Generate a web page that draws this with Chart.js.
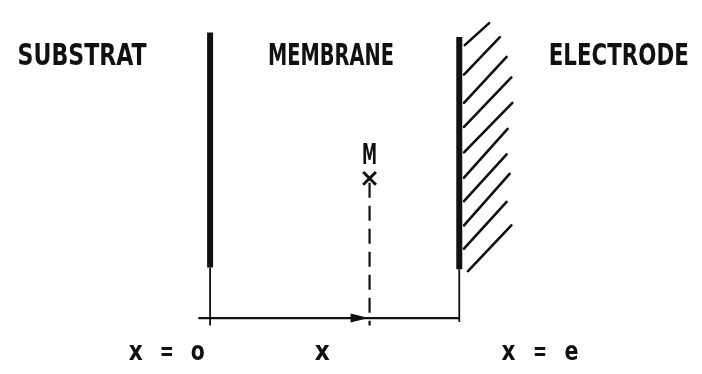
<!DOCTYPE html>
<html>
<head>
<meta charset="utf-8">
<script src="https://cdn.jsdelivr.net/npm/chart.js@4/dist/chart.umd.min.js"></script>
<style>
  html, body { margin: 0; padding: 0; background: #ffffff; }
  #wrap { width: 702px; height: 374px; }
</style>
</head>
<body>
<div id="wrap"><canvas id="c" width="702" height="374"></canvas></div>
<script>
// ---- Diagram data (units: membrane thickness e; x = 0 substrate, x = e = 1 electrode; y = height above the x axis) ----
const regionNames   = ["SUBSTRAT", "MEMBRANE", "ELECTRODE"];
const axisLabels    = ["x = o", "x", "x = e"];
const pointName     = "M";

const substrateX    = 0;          // x = o
const electrodeX    = 1;          // x = e
const wallTop       = [1.182, 1.163];   // substrate, electrode (top of thick wall)
const wallThickEnd  = [0.209, 0.202];   // where thick wall becomes thin
const wallBottom    = [-0.031, -0.016]; // bottom of thin continuation

const axisStartX    = -0.047;
const axisEndX      = 1.0;

const pointMX       = 0.640;      // abscissa x of M
const pointMY       = 0.578;
const dashTopY      = 0.560;
const dashBottomY   = -0.031;

// electrode hatching (start on wall, end up-right)
const hatchStartX = [1.022, 1.019, 1.019, 1.019, 1.019, 1.019, 1.019, 1.019, 1.019, 1.035];
const hatchStartY = [1.130, 1.008, 0.891, 0.791, 0.686, 0.581, 0.484, 0.384, 0.287, 0.194];
const hatchEndX   = [1.120, 1.163, 1.190, 1.209, 1.213, 1.194, 1.190, 1.202, 1.190, 1.209];
const hatchEndY   = [1.221, 1.163, 1.081, 0.996, 0.891, 0.783, 0.678, 0.597, 0.481, 0.384];

// label anchors (diagram units)
const regionLabelX  = [-0.514, 0.485, 1.640];
const regionLabelY  = 1.047;      // baseline
const axisLabelX    = [-0.174, 0.450, 1.324];
const axisLabelY    = -0.174;     // baseline
const pointLabelY   = 0.636;      // baseline

// ---- layout / style (not data) ----
const INK = "#111111";
const FONT = '"DejaVu Sans Condensed", "DejaVu Sans", sans-serif';
const regionStyle = { size: 30, widths: [129, 126, 140] };
const axisStyle   = { size: 27, widths: [76, 15, 77], glyph: 14 };
const pointStyleT = { size: 28, width: 15 };

function seg(x1, y1, x2, y2) { return [{x: x1, y: y1}, {x: x2, y: y2}]; }
function lineDs(data, width, extra) {
  return Object.assign({
    data: data, showLine: true, borderColor: INK, backgroundColor: INK,
    borderWidth: width, pointRadius: 0, borderCapStyle: 'butt', fill: false
  }, extra || {});
}

const datasets = [];
const wallX = [substrateX, electrodeX];
for (let i = 0; i < 2; i++) {
  datasets.push(lineDs(seg(wallX[i], wallTop[i], wallX[i], wallThickEnd[i]), 6));
  datasets.push(lineDs(seg(wallX[i], wallThickEnd[i], wallX[i], wallBottom[i]), 1.8));
}
for (let i = 0; i < hatchStartX.length; i++) {
  datasets.push(lineDs(seg(hatchStartX[i], hatchStartY[i], hatchEndX[i], hatchEndY[i]), 2.6, {borderCapStyle: 'round'}));
}
datasets.push(lineDs(seg(axisStartX, 0, axisEndX, 0), 2.2));
datasets.push(lineDs(seg(pointMX, dashTopY, pointMX, dashBottomY), 2.2, {borderDash: [15, 8]}));
datasets.push({
  data: [{x: pointMX, y: pointMY}], showLine: false, pointStyle: 'crossRot',
  pointRadius: 9, pointBorderWidth: 3, borderColor: INK, backgroundColor: INK
});

function fitText(ctx, text, cx, baseY, size, width) {
  ctx.save();
  ctx.font = 'bold ' + size + 'px ' + FONT;
  ctx.textBaseline = 'alphabetic';
  ctx.textAlign = 'left';
  const w = ctx.measureText(text).width;
  const sx = width / w;
  ctx.translate(cx - width / 2, baseY);
  ctx.scale(sx, 1);
  ctx.fillStyle = INK;
  ctx.fillText(text, 0, 0);
  ctx.restore();
}

// typewriter-like spaced label: tokens spread evenly over the total width
function spacedText(ctx, text, cx, baseY, size, width, glyph) {
  const tokens = text.split(' ');
  if (tokens.length === 1) { fitText(ctx, text, cx, baseY, size, width); return; }
  const left = cx - width / 2 + glyph / 2, right = cx + width / 2 - glyph / 2;
  tokens.forEach((t, k) => {
    const c = left + (right - left) * k / (tokens.length - 1);
    fitText(ctx, t, c, baseY, size, glyph);
  });
}

const decorations = {
  id: 'decorations',
  afterDatasetsDraw(chart) {
    const ctx = chart.ctx, xs = chart.scales.x, ys = chart.scales.y;
    // arrowhead on the x axis pointing to M's abscissa
    const tx = xs.getPixelForValue(pointMX) - 1, ty = ys.getPixelForValue(0);
    ctx.save();
    ctx.fillStyle = INK;
    ctx.beginPath();
    ctx.moveTo(tx, ty);
    ctx.lineTo(tx - 18, ty - 4.5);
    ctx.lineTo(tx - 18, ty + 4.5);
    ctx.closePath();
    ctx.fill();
    ctx.restore();
    // region labels
    regionNames.forEach((t, i) => fitText(ctx, t, xs.getPixelForValue(regionLabelX[i]),
      ys.getPixelForValue(regionLabelY), regionStyle.size, regionStyle.widths[i]));
    // axis labels
    axisLabels.forEach((t, i) => spacedText(ctx, t, xs.getPixelForValue(axisLabelX[i]),
      ys.getPixelForValue(axisLabelY), axisStyle.size, axisStyle.widths[i], axisStyle.glyph));
    // point label
    fitText(ctx, pointName, xs.getPixelForValue(pointMX), ys.getPixelForValue(pointLabelY),
      pointStyleT.size, pointStyleT.width);
  }
};

new Chart(document.getElementById('c'), {
  type: 'scatter',
  data: { datasets: datasets },
  options: {
    responsive: false,
    animation: false,
    layout: { padding: 0 },
    plugins: { legend: { display: false }, tooltip: { enabled: false } },
    scales: {
      x: { type: 'linear', display: false, min: -0.795, max: 1.926 },
      y: { type: 'linear', display: false, min: -0.182, max: 1.267 }
    }
  },
  plugins: [decorations]
});
</script>
</body>
</html>
